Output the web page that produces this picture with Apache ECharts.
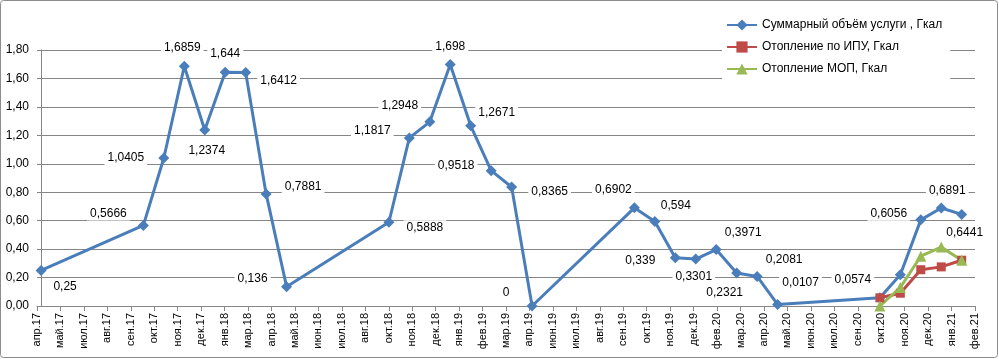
<!DOCTYPE html>
<html><head><meta charset="utf-8">
<script src="https://cdn.jsdelivr.net/npm/echarts@6/dist/echarts.min.js"></script>
<style>html,body{margin:0;padding:0;background:#fff}#c{width:999px;height:359px}</style>
</head><body><div id="c"></div>
<script>
// Tick labels of the category (label) axis
const tickLabels = ['апр.17','май.17','июл.17','авг.17','сен.17','окт.17','ноя.17','дек.17','янв.18','мар.18','апр.18','май.18','июн.18',
  'июл.18','авг.18','окт.18','ноя.18','дек.18','янв.19','фев.19','мар.19','апр.19','июн.19','июл.19','авг.19','сен.19','окт.19',
  'ноя.19','дек.19','фев.20','мар.20','апр.20','май.20','июн.20','июл.20','сен.20','окт.20','ноя.20','дек.20','янв.21','фев.21'];

// Series: Суммарный объём услуги
const totalMonths = ['2017-04','2017-09','2017-10','2017-11','2017-12','2018-01','2018-02','2018-03','2018-04',
  '2018-09','2018-10','2018-11','2018-12','2019-01','2019-02','2019-03','2019-04',
  '2019-09','2019-10','2019-11','2019-12','2020-01','2020-02','2020-03','2020-04',
  '2020-09','2020-10','2020-11','2020-12','2021-01'];
const totalValues = [0.25,0.5666,1.0405,1.6859,1.2374,1.644,1.6412,0.7881,0.136,
  0.5888,1.1817,1.2948,1.698,1.2671,0.9518,0.8365,0,
  0.6902,0.594,0.339,0.3301,0.3971,0.2321,0.2081,0.0107,
  0.0574,0.22,0.6056,0.6891,0.6441];
const totalLabeled = [1,1,1,1,1,1,1,1,1, 1,1,1,1,1,1,1,1, 1,1,1,1,1,1,1,1, 1,0,1,1,1];

// Series: Отопление по ИПУ
const ipuMonths = ['2020-09','2020-10','2020-11','2020-12','2021-01'];
const ipuValues = [0.0574,0.09,0.255,0.275,0.322];

// Series: Отопление МОП
const mopMonths = ['2020-09','2020-10','2020-11','2020-12','2021-01'];
const mopValues = [0,0.13,0.35,0.414,0.322];

const seriesNames = ['Суммарный объём услуги , Гкал','Отопление по ИПУ, Гкал','Отопление МОП, Гкал'];

// label placement (style only): offset of label centre from point
const labelOffsets = [[24,16],[-35,-12],[-38,0],[-2,-19],[2,21],[0,-18],[33,8],[37,-7],[-34,-8],
  [36,5],[-37,-7],[-30,-16],[0,-17.5],[26,-13],[-35,-5],[38,5],[-26,-13],
  [-21,-18],[21,-16],[-35,3],[-2,18],[27,-17],[-12,20],[27,-17],[23,-22],
  [-27,-18],null,[-32,-6],[6,-17.5],[3,18]];

function monthIndex(s){const [y,m]=s.split('-').map(Number);return (y-2017)*12+(m-4);}
const fmt = v => String(v).replace('.', ',');
const FONT = 'Liberation Sans';
const BLUE_SYM = 11;

const totalData = totalValues.map((v,i)=>{
  const d = {value:[monthIndex(totalMonths[i]), v]};
  if (totalLabeled[i] && labelOffsets[i]) {
    const o = labelOffsets[i];
    d.label = {show:true, position:[BLUE_SYM/2 + o[0], BLUE_SYM/2 + o[1]], align:'center', verticalAlign:'middle'};
  }
  return d;
});
const ipuData = ipuValues.map((v,i)=>[monthIndex(ipuMonths[i]), v]);
const mopData = mopValues.map((v,i)=>[monthIndex(mopMonths[i]), v]);

const chart = echarts.init(document.getElementById('c'), null, {renderer:'canvas'});
chart.setOption({
  animation:false,
  textStyle:{fontFamily:FONT},
  graphic:[{type:'rect', shape:{x:0.5,y:0.5,width:997,height:357,r:3}, style:{fill:'none',stroke:'#8c8c8c',lineWidth:1}, z:-1}],
  grid:{left:37,right:24,top:50,bottom:53},
  legend:{
    orient:'vertical', left:722, top:9, padding:[10,8,8,4], itemGap:10,
    itemWidth:30, itemHeight:14, backgroundColor:'#fff',
    textStyle:{fontSize:12,color:'#000',fontFamily:FONT},
    data:seriesNames
  },
  xAxis:[
    {type:'category', data:tickLabels, boundaryGap:false,
     axisLine:{lineStyle:{color:'#868686'}},
     axisTick:{show:true,length:5,lineStyle:{color:'#868686'}},
     axisLabel:{rotate:90,fontSize:11,color:'#000',margin:7,interval:0,fontFamily:FONT},
     splitLine:{show:false}},
    {type:'value', min:-0.2, max:45.65, show:false, splitLine:{show:false}}
  ],
  yAxis:{type:'value', min:0, max:1.8, interval:0.2,
    axisLine:{show:true,lineStyle:{color:'#868686'}},
    axisTick:{show:true,length:3,lineStyle:{color:'#868686'}},
    axisLabel:{fontSize:12,color:'#000',margin:8,formatter:v=>v.toFixed(2).replace('.',','),fontFamily:FONT},
    splitLine:{lineStyle:{color:'#868686',width:1}}},
  series:[
    {name:seriesNames[0], type:'line', xAxisIndex:1, data:totalData,
     symbol:'diamond', symbolSize:BLUE_SYM, showAllSymbol:true, color:'#4A7EBB',
     lineStyle:{width:3,color:'#4A7EBB'}, itemStyle:{color:'#4A7EBB'},
     label:{show:false, formatter:p=>fmt(p.value[1]), fontSize:12, color:'#000',
       backgroundColor:'#fff', padding:[1,3], fontFamily:FONT},
     labelLayout:{hideOverlap:false}},
    {name:seriesNames[1], type:'line', xAxisIndex:1, data:ipuData,
     symbol:'rect', symbolSize:9, color:'#BE4B48',
     lineStyle:{width:3,color:'#BE4B48'}, itemStyle:{color:'#BE4B48'}},
    {name:seriesNames[2], type:'line', xAxisIndex:1, data:mopData,
     symbol:'triangle', symbolSize:11, color:'#98B954',
     lineStyle:{width:3,color:'#98B954'}, itemStyle:{color:'#98B954'}}
  ]
});
</script></body></html>
